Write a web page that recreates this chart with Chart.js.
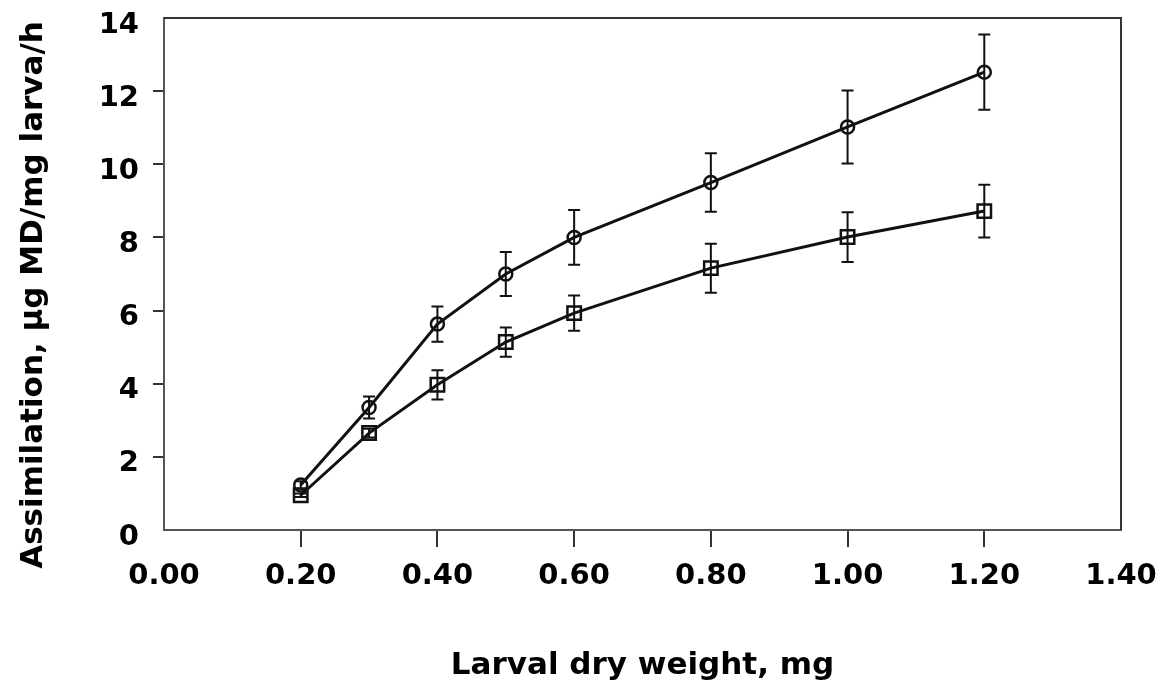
<!DOCTYPE html>
<html>
<head>
<meta charset="utf-8">
<title>Assimilation vs larval dry weight</title>
<script src="https://cdn.jsdelivr.net/npm/chart.js@4.4.1/dist/chart.umd.min.js"></script>
<style>
  html, body { margin: 0; padding: 0; background: #fff; }
  #wrap { width: 1161px; height: 685px; position: relative; }
</style>
</head>
<body>
<div id="wrap"><canvas id="assimChart"></canvas></div>
<script>
// larval dry weight (mg)
const weights = [0.20, 0.30, 0.40, 0.50, 0.60, 0.80, 1.00, 1.20];

// circles - upper curve
const circleMeans = [1.23, 3.35, 5.63, 7.0, 8.0, 9.5, 11.02, 12.52];
const circleErr = [0.1, 0.3, 0.48, 0.6, 0.75, 0.8, 1.0, 1.03];

// squares - lower curve
const squareMeans = [0.95, 2.65, 3.97, 5.14, 5.93, 7.16, 8.01, 8.72];
const squareErr = [0.05, 0.12, 0.4, 0.4, 0.48, 0.67, 0.68, 0.72];

const xTicks = [0, 0.2, 0.4, 0.6, 0.8, 1.0, 1.2, 1.4];
const yTicks = [0, 2, 4, 6, 8, 10, 12, 14];

const xTitle = 'Larval dry weight, mg';
const yTitle = 'Assimilation, \u03bcg MD/mg larva/h';

const ink = '#111';
const FONT = "'DejaVu Sans', sans-serif";

Chart.defaults.font.family = FONT;
Chart.defaults.color = '#000';

const toPoints = (xs, ys) => xs.map((x, i) => ({ x: x, y: ys[i] }));

// vertical error bars with caps, drawn through the chart scales
const errorBars = {
  id: 'errorBars',
  afterDatasetsDraw(chart) {
    const ctx = chart.ctx;
    const xs = chart.scales.x;
    const ys = chart.scales.y;
    const sets = [[circleMeans, circleErr], [squareMeans, squareErr]];
    ctx.save();
    ctx.strokeStyle = ink;
    ctx.lineWidth = 2;
    sets.forEach(([means, errs]) => {
      weights.forEach((w, i) => {
        const px = xs.getPixelForValue(w);
        const top = ys.getPixelForValue(means[i] + errs[i]);
        const bot = ys.getPixelForValue(means[i] - errs[i]);
        ctx.beginPath();
        ctx.moveTo(px, top);
        ctx.lineTo(px, bot);
        ctx.moveTo(px - 6, top);
        ctx.lineTo(px + 6, top);
        ctx.moveTo(px - 6, bot);
        ctx.lineTo(px + 6, bot);
        ctx.stroke();
      });
    });
    ctx.restore();
  }
};

// closes the box on top and right, and writes the y title
const frame = {
  id: 'frame',
  afterDraw(chart) {
    const { ctx, chartArea: a } = chart;
    ctx.save();
    ctx.strokeStyle = '#333';
    ctx.lineWidth = 2;
    ctx.beginPath();
    ctx.moveTo(a.left, a.top);
    ctx.lineTo(a.right, a.top);
    ctx.lineTo(a.right, a.bottom);
    ctx.stroke();

    ctx.translate(34, 295);
    ctx.rotate(-Math.PI / 2);
    ctx.fillStyle = '#000';
    ctx.font = 'bold 31px ' + FONT;
    ctx.textAlign = 'center';
    ctx.textBaseline = 'middle';
    ctx.fillText(yTitle, 0, 0);
    ctx.restore();
  }
};

// tick marks only on the inner values
const innerTick = (ends) => (c) => (ends.includes(c.tick && c.tick.value) ? 'rgba(0,0,0,0)' : '#333');

new Chart('assimChart', {
  type: 'line',
  data: {
    datasets: [{
      label: 'circles',
      data: toPoints(weights, circleMeans),
      borderColor: ink,
      borderWidth: 3,
      backgroundColor: 'rgba(0,0,0,0)',
      pointStyle: 'circle',
      pointRadius: 6.5,
      pointBorderWidth: 2.5,
      pointBorderColor: ink,
      tension: 0
    }, {
      label: 'squares',
      data: toPoints(weights, squareMeans),
      borderColor: ink,
      borderWidth: 3,
      backgroundColor: 'rgba(0,0,0,0)',
      pointStyle: 'rect',
      pointRadius: 9.5,
      pointBorderWidth: 2.5,
      pointBorderColor: ink,
      tension: 0
    }]
  },
  options: {
    responsive: true,
    maintainAspectRatio: false,
    animation: false,
    layout: {
      padding: { top: 18, right: 40, left: 0, bottom: 0 }
    },
    plugins: {
      legend: { display: false },
      tooltip: { enabled: false }
    },
    scales: {
      x: {
        type: 'linear',
        min: 0,
        max: 1.4,
        afterFit: (s) => {
          s.height = 155;
          s.paddingLeft = 0;
          s.paddingRight = 0;
        },
        afterBuildTicks: (s) => { s.ticks = xTicks.map(v => ({ value: v })); },
        border: { display: true, color: '#555', width: 2 },
        grid: {
          drawOnChartArea: false,
          drawTicks: true,
          tickLength: 17,
          lineWidth: 2,
          color: innerTick([0, 1.4])
        },
        ticks: {
          padding: 12,
          color: '#000',
          font: { size: 29, weight: 'bold' },
          callback: (v) => Number(v).toFixed(2)
        },
        title: {
          display: true,
          text: xTitle,
          color: '#000',
          font: { size: 31, weight: 'bold' },
          padding: { top: 54, bottom: 0 }
        }
      },
      y: {
        min: 0,
        max: 14,
        afterFit: (s) => {
          s.width = 164;
          s.paddingTop = 0;
          s.paddingBottom = 0;
        },
        afterBuildTicks: (s) => { s.ticks = yTicks.map(v => ({ value: v })); },
        border: { display: true, color: '#555', width: 2 },
        grid: {
          drawOnChartArea: false,
          drawTicks: true,
          tickLength: 11,
          lineWidth: 2,
          color: innerTick([0, 14])
        },
        ticks: {
          padding: 14,
          labelOffset: 7,
          color: '#000',
          font: { size: 29, weight: 'bold' }
        }
      }
    }
  },
  plugins: [errorBars, frame]
});
</script>
</body>
</html>
